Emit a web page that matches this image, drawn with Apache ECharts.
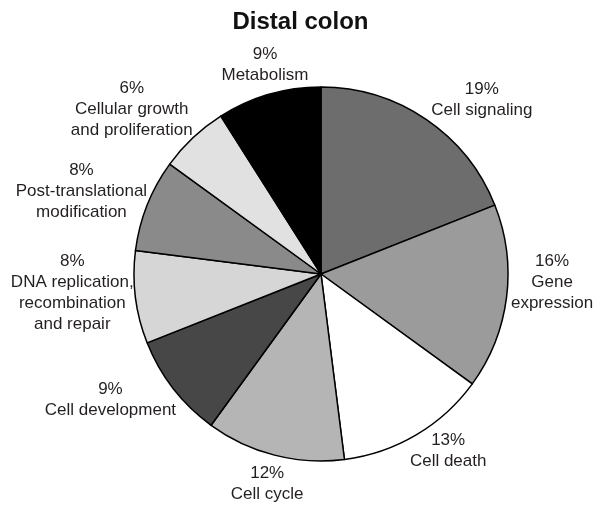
<!DOCTYPE html>
<html>
<head>
<meta charset="utf-8">
<script src="https://cdn.jsdelivr.net/npm/echarts@6/dist/echarts.min.js"></script>
<style>
html, body { margin: 0; padding: 0; background: #fff; }
#main { width: 601px; height: 508px; }
</style>
</head>
<body>
<div id="main"></div>
<script>
var categories = ['Cell signaling', 'Gene\nexpression', 'Cell death', 'Cell cycle', 'Cell development',
    'DNA replication,\nrecombination\nand repair', 'Post-translational\nmodification',
    'Cellular growth\nand proliferation', 'Metabolism'];
var percents = [19, 16, 13, 12, 9, 8, 8, 6, 9];
var greys = ['#6d6d6d', '#9b9b9b', '#ffffff', '#b5b5b5', '#474747', '#d6d6d6', '#8a8a8a', '#e1e1e1', '#000000'];
// label placement tweaks: [angle offset (deg), gap from rim (px)]
var labelTweak = [[8.6, 0], [-5.2, 2], [-5.2, -9], [0, 0], [7, -9], [2.8, -2], [-2.6, -6], [-5.7, -2.5], [1.2, -2]];

var CX = 321, CY = 274, R = 187;

var total = percents.reduce(function (a, b) { return a + b; }, 0);
var midAngle = [];
var acc = 0;
percents.forEach(function (v) {
    midAngle.push((acc + v / 2) / total * 360);
    acc += v;
});

var myChart = echarts.init(document.getElementById('main'));

option = {
    animation: false,
    backgroundColor: '#fff',
    title: {
        text: 'Distal colon',
        left: 'center',
        top: 5,
        textStyle: {
            fontFamily: 'Liberation Sans',
            fontSize: 24,
            fontWeight: 'bold',
            color: '#111'
        }
    },
    series: [
        {
            type: 'pie',
            center: [CX, CY],
            radius: R,
            startAngle: 90,
            clockwise: true,
            silent: true,
            avoidLabelOverlap: false,
            itemStyle: {
                borderColor: '#000',
                borderWidth: 1.5
            },
            label: {
                show: true,
                position: 'outside',
                formatter: function (p) {
                    return p.value + '%\n' + p.name;
                },
                fontFamily: 'Liberation Sans',
                fontSize: 17,
                lineHeight: 21,
                color: '#231f20'
            },
            labelLine: { show: false },
            labelLayout: function (p) {
                var i = p.dataIndex;
                var a = (midAngle[i] + labelTweak[i][0]) * Math.PI / 180;
                var ux = Math.sin(a), uy = -Math.cos(a);
                var w = p.labelRect.width, h = p.labelRect.height;
                var t = R + labelTweak[i][1] + Math.abs(ux) * w / 2 + Math.abs(uy) * h / 2;
                return { x: CX + ux * t, y: CY + uy * t, align: 'center', verticalAlign: 'middle' };
            },
            emphasis: { disabled: true },
            data: categories.map(function (c, i) {
                return { name: c, value: percents[i], itemStyle: { color: greys[i] } };
            })
        }
    ]
};

myChart.setOption(option);
</script>
</body>
</html>
